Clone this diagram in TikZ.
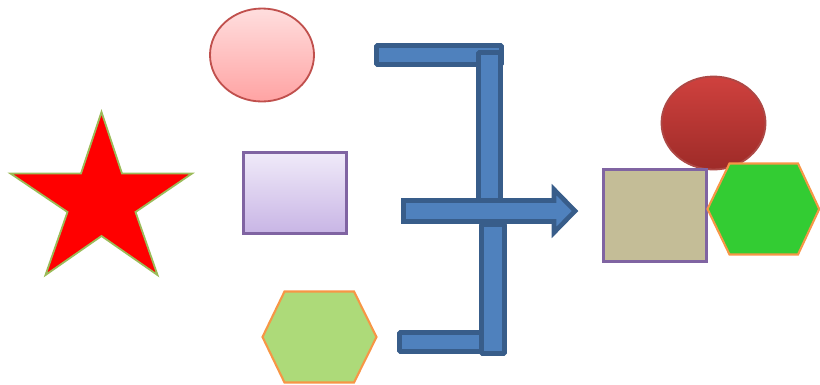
\documentclass[tikz,border=0pt]{standalone}
\usepackage{tikz}
\usetikzlibrary{arrows.meta,positioning,calc}
\usepackage{xcolor}
\definecolor{barfill}{HTML}{4F81BD}
\definecolor{barline}{HTML}{385D8A}
\definecolor{pinktop}{HTML}{FFDEDE}
\definecolor{pinkbot}{HTML}{FFA3A3}
\definecolor{redline}{HTML}{C0504D}
\definecolor{lilactop}{HTML}{F0EAF9}
\definecolor{lilacbot}{HTML}{C8B5E5}
\definecolor{purpleline}{HTML}{8064A2}
\definecolor{lightgreen}{HTML}{ADDA79}
\definecolor{orangeline}{HTML}{F79646}
\definecolor{darkredtop}{HTML}{CF413E}
\definecolor{darkredbot}{HTML}{9E2B28}
\definecolor{tan}{HTML}{C4BD97}
\definecolor{brightgreen}{HTML}{33CC33}
\definecolor{starline}{HTML}{9BBB59}
\tikzset{
  blockbar/.style={fill=barfill,draw=barline,line width=3.3pt},
  hexline/.style={draw=orangeline,line width=1.5pt}
}

\begin{document}
\begin{tikzpicture}[x=0.025cm,y=-0.025cm]
\useasboundingbox (0,0) rectangle (820,384);
% star
\draw[fill=red,draw=starline,line width=1.3pt] (101.5,112) -- (122,173.5) -- (192,173.5) -- (135.5,212)
  -- (157.5,275) -- (101.5,236) -- (45.5,275) -- (67.5,212) -- (10.5,173.5) -- (81,173.5) -- cycle;
% left column of shapes
\shadedraw[top color=pinktop,bottom color=pinkbot,draw=redline,line width=1.3pt]
  (262,55) ellipse [x radius=52,y radius=46.5];
\shadedraw[top color=lilactop,bottom color=lilacbot,draw=purpleline,line width=1.7pt]
  (243.5,152.5) rectangle (346.5,233.5);
\draw[fill=lightgreen,hexline] (262.5,337) -- (284.5,291.5) -- (354,291.5) -- (376.5,337)
  -- (354,382.5) -- (284.5,382.5) -- cycle;
% bracket and arrow
\draw[blockbar,rounded corners=0.6pt] (376.5,45.5) rectangle (501.5,64.5);
\draw[blockbar,rounded corners=0.6pt] (478.5,52.5) rectangle (500.5,204);
\draw[blockbar] (403.5,200.5) -- (554,200.5) -- (554,189.5) -- (575,211) -- (554,232.5)
  -- (554,221.5) -- (403.5,221.5) -- cycle;
\draw[blockbar,rounded corners=0.6pt] (399.5,332.5) rectangle (485,351.5);
\draw[blockbar,rounded corners=0.6pt] (481.5,224.5) rectangle (504.5,353.5);
% right group
\shadedraw[top color=darkredtop,bottom color=darkredbot,draw=redline!90!black,line width=1.3pt]
  (713.5,123) ellipse [x radius=52,y radius=46.5];
\draw[fill=tan,draw=purpleline,line width=1.7pt] (603.5,169.5) rectangle (706.5,261.5);
\draw[fill=brightgreen,hexline] (707.5,209) -- (729.5,163.5) -- (798,163.5) -- (819.2,209)
  -- (798,254.5) -- (729.5,254.5) -- cycle;
\end{tikzpicture}
\end{document}
